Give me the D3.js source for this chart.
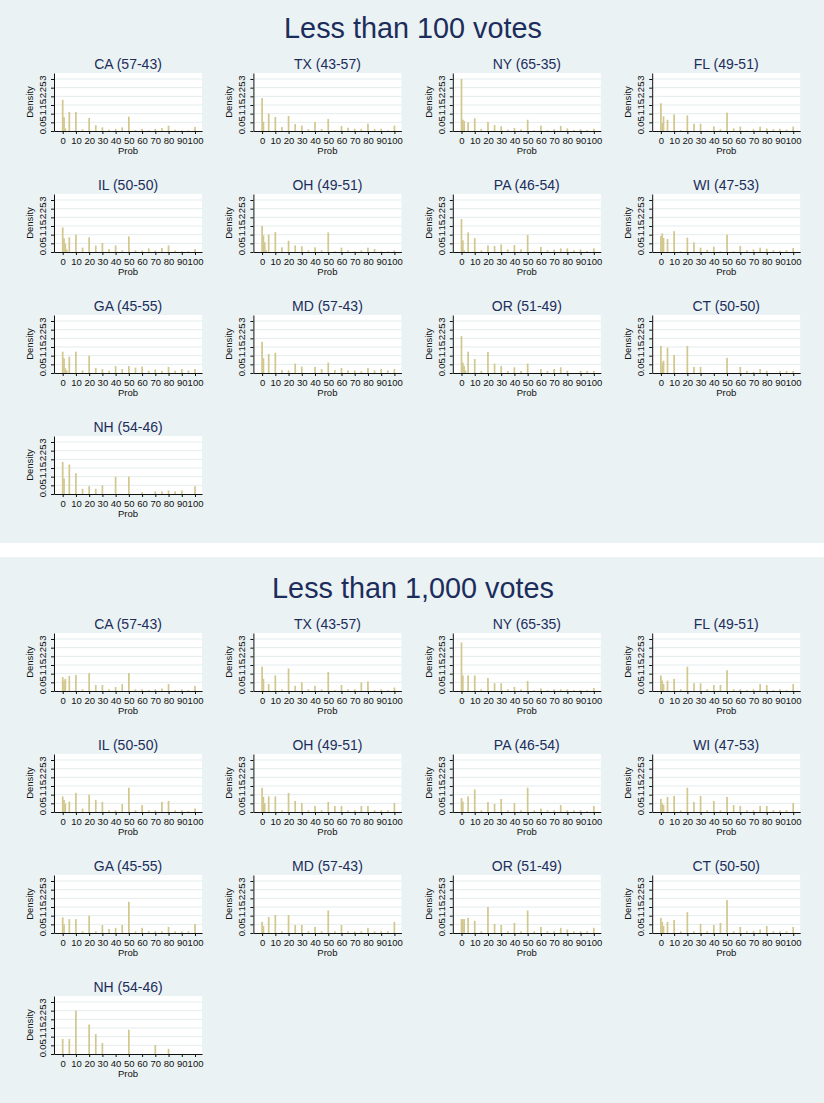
<!DOCTYPE html>
<html>
<head>
<meta charset="utf-8">
<script src="https://cdn.jsdelivr.net/npm/d3@7"></script>
<style>
  body { margin: 0; background: #ffffff; }
  svg { display: block; }
  text { font-family: "Liberation Sans", Arial, Helvetica, sans-serif; }
</style>
</head>
<body>
<svg id="chart" width="824" height="1103"></svg>
<script>
// ---- data -------------------------------------------------------------
const figureTitles = ["Less than 100 votes", "Less than 1,000 votes"];
const states = ["CA", "TX", "NY", "FL", "IL", "OH", "PA", "WI", "GA", "MD", "OR", "CT", "NH"];
const voteSplits = ["57-43", "43-57", "65-35", "49-51", "50-50", "49-51", "46-54", "47-53",
                    "45-55", "57-43", "51-49", "50-50", "54-46"];
const probBins = [0, 1, 2, 3, 5, 10, 15, 20, 25, 30, 35, 40, 45, 50, 55, 60, 65, 70, 75, 80, 85, 90, 95, 100];
const xTicks = [0, 10, 20, 30, 40, 50, 60, 70, 80, 90, 100];
const yTicks = [0, 0.05, 0.1, 0.15, 0.2, 0.25, 0.3];
const yTickLabels = ["0", ".05", ".1", ".15", ".2", ".25", ".3"];

// densities per bin (same order as probBins), close-race margin under 100 votes
const under100_CA = [.18, .08, .015, 0, .11, .11, .01, .075, .033, .021, .008, .012, .021, .083, .006, .012, .004, .012, .017, .031, .008, .004, .004, .023];
const under100_TX = [.19, .054, 0, 0, .10, .081, .023, .087, .04, .031, .01, .052, .012, .069, .004, .029, .019, .013, .013, .042, .012, .013, .004, .031];
const under100_NY = [.30, .065, .058, 0, .05, .073, .012, .052, .035, .027, .008, .017, .01, .065, .004, .031, .004, .01, .029, .015, .006, .01, .006, .013];
const under100_FL = [.16, .046, .085, 0, .065, .096, .006, .09, .042, .042, .002, .027, .01, .106, .015, .025, .002, .01, .025, .015, .01, .013, .008, .025];
const under100_IL = [.142, .079, .048, .015, .085, .10, .025, .085, .037, .052, .017, .038, .01, .09, .01, .008, .021, .008, .023, .038, .008, .004, .004, .017];
const under100_OH = [.15, .096, .056, .01, .10, .115, .027, .065, .038, .033, .01, .027, .01, .113, .004, .025, .01, .004, .01, .025, .017, .004, .004, .01];
const under100_PA = [.19, .067, .01, 0, .113, .08, .01, .038, .035, .044, .015, .04, .015, .098, .004, .029, .01, .013, .021, .021, .01, .015, .006, .021];
const under100_WI = [.092, .108, .081, 0, .075, .12, .004, .083, .056, .025, .013, .031, .004, .10, .004, .035, .01, .015, .025, .019, .01, .008, .01, .023];
const under100_GA = [.123, .085, .027, .015, .094, .123, .015, .10, .029, .023, .013, .04, .023, .04, .031, .037, .013, .021, .013, .035, .013, .023, .015, .023];
const under100_MD = [.18, .085, 0, 0, .11, .117, .017, .015, .054, .037, 0, .035, .023, .06, .017, .029, .015, .015, .01, .029, .015, .023, .015, .023];
const under100_OR = [.213, .06, .04, .015, .123, .081, .012, .121, .054, .04, .012, .033, .012, .054, 0, .023, .012, .023, .033, .013, 0, .012, .012, .012];
const under100_CT = [.156, .06, .071, 0, .146, .104, 0, .156, .035, .035, 0, 0, 0, .087, 0, .035, .012, .006, .023, .012, 0, .012, .012, .012];
const under100_NH = [.185, .09, 0, 0, .17, .12, .03, .045, .03, .05, 0, .1, 0, .1, 0, .01, 0, .015, .015, .02, .015, .02, 0, .045];

// densities per bin, close-race margin under 1,000 votes
const under1000_CA = [.08, .06, .07, 0, .087, .092, .01, .104, .035, .035, .01, .023, .04, .104, .01, .01, .006, .01, .015, .04, .006, .01, .006, .029];
const under1000_TX = [.14, .07, 0, 0, .04, .09, .01, .13, .03, .05, .01, .03, .01, .11, .005, .035, .01, .01, .05, .055, .005, .01, .005, .02];
const under1000_NY = [.28, .09, 0, 0, .09, .09, .01, .075, .045, .045, .01, .023, .01, .058, .005, .015, .005, .01, .01, .01, .005, .005, .005, .017];
const under1000_FL = [.09, .06, .04, 0, .06, .07, .01, .14, .045, .045, .01, .035, .035, .12, .01, .01, .005, .01, .04, .035, .005, .01, .005, .04];
const under1000_IL = [.09, .07, .05, 0, .06, .11, .02, .1, .07, .058, .01, .01, .046, .14, .01, .04, .01, .01, .058, .064, .01, .01, .005, .02];
const under1000_OH = [.14, .087, .05, 0, .09, .09, .01, .11, .064, .052, .01, .035, .01, .058, .035, .035, .01, .01, .035, .035, .01, .01, .01, .052];
const under1000_PA = [.08, .06, 0, 0, .09, .13, .01, .058, .046, .075, .01, .052, .01, .14, .01, .02, .01, .01, .04, .01, .01, .01, .005, .035];
const under1000_WI = [.075, .05, .04, 0, .087, .092, .01, .14, .058, .092, .01, .064, .01, .087, .04, .035, .01, .01, .035, .035, .01, .01, .01, .052];
const under1000_GA = [.09, .05, 0, 0, .08, .08, .01, .1, .01, .046, .023, .03, .046, .18, .01, .03, .01, .01, .01, .035, .01, .01, .01, .052];
const under1000_MD = [.064, .04, 0, 0, .092, .104, .01, .104, .046, .046, .01, .035, .01, .13, .01, .046, .01, .01, .01, .03, .01, .01, .01, .064];
const under1000_OR = [.08, .08, .08, 0, .087, .07, .01, .15, .052, .046, .01, .058, .01, .13, .01, .035, .01, .01, .03, .02, .01, .01, .01, .03];
const under1000_CT = [.087, .064, .04, 0, .064, .075, .01, .12, .01, .052, .01, .046, .058, .19, .01, .035, .01, .01, .02, .04, .01, .01, .01, .035];
const under1000_NH = [.087, 0, 0, 0, .087, .25, 0, .17, .115, .064, 0, 0, 0, .14, 0, 0, 0, .052, 0, .03, 0, 0, 0, 0];

const panels100 = [under100_CA, under100_TX, under100_NY, under100_FL, under100_IL, under100_OH, under100_PA,
                   under100_WI, under100_GA, under100_MD, under100_OR, under100_CT, under100_NH];
const panels1000 = [under1000_CA, under1000_TX, under1000_NY, under1000_FL, under1000_IL, under1000_OH, under1000_PA,
                    under1000_WI, under1000_GA, under1000_MD, under1000_OR, under1000_CT, under1000_NH];

// ---- layout -----------------------------------------------------------
const W = 824;
const figures = [
  { title: figureTitles[0], top: 0, bgTop: 0, bgHeight: 543, panels: panels100 },
  { title: figureTitles[1], top: 560, bgTop: 557, bgHeight: 546, panels: panels1000 }
];
const nCols = 4;
const colStep = 199.4, rowStep = 121;
const axisX0 = 54;          // y-axis of first column
const baseY0 = 131;         // x-axis of first row (relative to figure top)
const plotW = 148, plotH = 58;
const xPadL = 6.57, xPadR = 5.28;   // axis range beyond 0..100
const yTop = 0.3346;

const bgColor = "#eaf2f3";
const gridColor = "#e3eced";
const barColor = "#d2c78e";
const titleColor = "#1c2d5c";
const inkColor = "#111111";
const barWidthUnits = 1.3;

const svg = d3.select("#chart");
svg.append("rect").attr("width", W).attr("height", 1103).attr("fill", "#ffffff");

figures.forEach(fig => {
  const g = svg.append("g");
  g.append("rect")
    .attr("x", 0).attr("y", fig.bgTop)
    .attr("width", W).attr("height", fig.bgHeight)
    .attr("fill", bgColor);

  g.append("text")
    .attr("x", W / 2 + 1).attr("y", fig.top + 38)
    .attr("text-anchor", "middle")
    .attr("font-size", 28.8)
    .attr("fill", titleColor)
    .text(fig.title);

  fig.panels.forEach((dens, i) => {
    const c = i % nCols, r = Math.floor(i / nCols);
    const X0 = axisX0 + c * colStep;
    const Y0 = fig.top + baseY0 + r * rowStep;

    const x = d3.scaleLinear().domain([-xPadL, 100 + xPadR]).range([X0, X0 + plotW]);
    const y = d3.scaleLinear().domain([0, yTop]).range([Y0, Y0 - plotH]);

    const p = g.append("g");

    // plot region
    p.append("rect")
      .attr("x", X0).attr("y", Y0 - plotH)
      .attr("width", plotW).attr("height", plotH)
      .attr("fill", "#ffffff");

    // horizontal grid
    p.selectAll("line.grid").data(yTicks.slice(1)).join("line")
      .attr("class", "grid")
      .attr("x1", X0).attr("x2", X0 + plotW)
      .attr("y1", d => y(d)).attr("y2", d => y(d))
      .attr("stroke", gridColor).attr("stroke-width", 1);

    // histogram bars
    const bars = probBins.map((b, k) => ({ prob: b, density: dens[k] })).filter(d => d.density > 0);
    p.selectAll("rect.bar").data(bars).join("rect")
      .attr("class", "bar")
      .attr("x", d => x(d.prob - barWidthUnits / 2))
      .attr("width", d => x(barWidthUnits) - x(0))
      .attr("y", d => y(d.density))
      .attr("height", d => y(0) - y(d.density))
      .attr("fill", barColor);

    // y axis with vertical tick labels
    const ya = p.append("g").attr("transform", `translate(${X0},0)`)
      .call(d3.axisLeft(y).tickValues(yTicks).tickSize(3).tickSizeOuter(0)
        .tickFormat((d, k) => yTickLabels[k]));
    ya.select(".domain").attr("stroke", inkColor);
    ya.selectAll(".tick line").attr("stroke", inkColor);
    ya.selectAll(".tick text")
      .attr("transform", "rotate(-90)")
      .attr("x", 0).attr("y", -8).attr("dy", "0")
      .attr("text-anchor", "middle")
      .attr("font-size", 9.5)
      .attr("font-family", null)
      .attr("fill", inkColor);

    // x axis
    const xa = p.append("g").attr("transform", `translate(0,${Y0})`)
      .call(d3.axisBottom(x).tickValues(xTicks).tickSize(3).tickSizeOuter(0).tickPadding(3.3));
    xa.select(".domain").attr("stroke", inkColor);
    xa.selectAll(".tick line").attr("stroke", inkColor);
    xa.selectAll(".tick text")
      .attr("font-size", 9.5)
      .attr("font-family", null)
      .attr("fill", inkColor);

    // axis titles
    p.append("text")
      .attr("x", X0 + plotW / 2).attr("y", Y0 + 23)
      .attr("text-anchor", "middle")
      .attr("font-size", 9.5)
      .attr("fill", inkColor)
      .text("Prob");
    p.append("text")
      .attr("transform", `translate(${X0 - 21},${Y0 - plotH / 2}) rotate(-90)`)
      .attr("text-anchor", "middle")
      .attr("font-size", 9.5)
      .attr("fill", inkColor)
      .text("Density");

    // panel title
    p.append("text")
      .attr("x", X0 + plotW / 2).attr("y", Y0 - plotH - 4)
      .attr("text-anchor", "middle")
      .attr("font-size", 14)
      .attr("fill", titleColor)
      .text(`${states[i]} (${voteSplits[i]})`);
  });
});
</script>
</body>
</html>
